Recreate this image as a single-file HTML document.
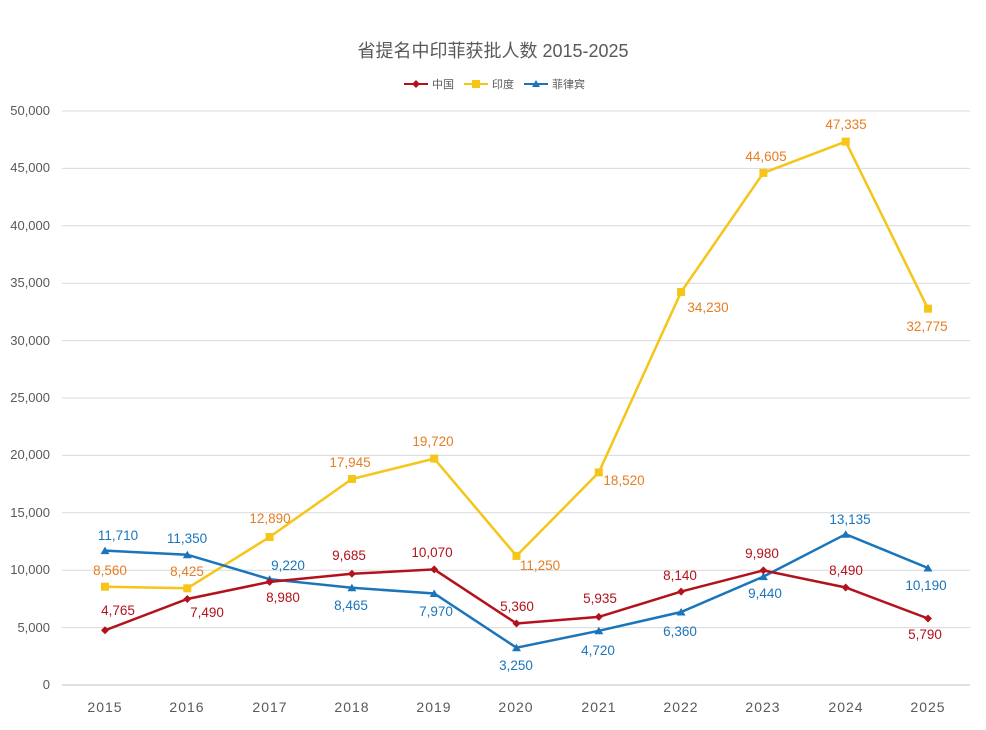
<!DOCTYPE html>
<html><head><meta charset="utf-8"><style>
body{margin:0;background:#fff;}
svg{display:block;font-family:"Liberation Sans","Noto Sans CJK SC",sans-serif;}
</style></head><body>
<svg width="986" height="730" viewBox="0 0 986 730" xmlns="http://www.w3.org/2000/svg">
<rect width="986" height="730" fill="#fff"/>
<text x="493" y="57" text-anchor="middle" font-size="18" fill="#595959">省提名中印菲获批人数 2015-2025</text>
<g font-size="11" fill="#595959">
<line x1="404" y1="84" x2="428" y2="84" stroke="#b3121c" stroke-width="2"/><path d="M416 80l4 4-4 4-4-4z" fill="#b3121c"/><text x="432" y="88">中国</text>
<line x1="464" y1="84" x2="488" y2="84" stroke="#f5c518" stroke-width="2"/><rect x="472" y="80" width="8" height="8" fill="#f5c518"/><text x="492" y="88">印度</text>
<line x1="524" y1="84" x2="548" y2="84" stroke="#1a75bb" stroke-width="2"/><path d="M536 80l4 7h-8z" fill="#1a75bb"/><text x="552" y="88">菲律宾</text>
</g>
<g stroke="#d9d9d9" stroke-width="1">
<line x1="62" y1="111" x2="970" y2="111"/><line x1="62" y1="168.4" x2="970" y2="168.4"/><line x1="62" y1="225.8" x2="970" y2="225.8"/><line x1="62" y1="283.2" x2="970" y2="283.2"/><line x1="62" y1="340.6" x2="970" y2="340.6"/><line x1="62" y1="398" x2="970" y2="398"/><line x1="62" y1="455.4" x2="970" y2="455.4"/><line x1="62" y1="512.8" x2="970" y2="512.8"/><line x1="62" y1="570.2" x2="970" y2="570.2"/><line x1="62" y1="627.6" x2="970" y2="627.6"/>
</g>
<line x1="62" y1="685" x2="970" y2="685" stroke="#bfbfbf"/>
<g font-size="13" fill="#595959" text-anchor="end">
<text x="50" y="115">50,000</text><text x="50" y="172">45,000</text><text x="50" y="230">40,000</text><text x="50" y="287">35,000</text><text x="50" y="345">30,000</text><text x="50" y="402">25,000</text><text x="50" y="459">20,000</text><text x="50" y="517">15,000</text><text x="50" y="574">10,000</text><text x="50" y="632">5,000</text><text x="50" y="689">0</text>
</g>
<g font-size="14" fill="#595959" text-anchor="middle" letter-spacing="1">
<text x="105" y="712">2015</text><text x="187" y="712">2016</text><text x="270" y="712">2017</text><text x="352" y="712">2018</text><text x="434" y="712">2019</text><text x="516" y="712">2020</text><text x="599" y="712">2021</text><text x="681" y="712">2022</text><text x="763" y="712">2023</text><text x="846" y="712">2024</text><text x="928" y="712">2025</text>
</g>
<polyline fill="none" stroke="#f5c518" stroke-width="2.5" points="105,586.7 187.3,588.3 269.6,537 351.9,479 434.2,458.6 516.5,555.9 598.8,472.4 681.1,292 763.4,172.9 845.7,141.6 928,308.7"/>
<g fill="#f5c518"><rect x="101" y="582.7" width="8" height="8"/><rect x="183.3" y="584.3" width="8" height="8"/><rect x="265.6" y="533" width="8" height="8"/><rect x="347.9" y="475" width="8" height="8"/><rect x="430.2" y="454.6" width="8" height="8"/><rect x="512.5" y="551.9" width="8" height="8"/><rect x="594.8" y="468.4" width="8" height="8"/><rect x="677.1" y="288" width="8" height="8"/><rect x="759.4" y="168.9" width="8" height="8"/><rect x="841.7" y="137.6" width="8" height="8"/><rect x="924" y="304.7" width="8" height="8"/></g>
<polyline fill="none" stroke="#1a75bb" stroke-width="2.5" points="105,550.6 187.3,554.7 269.6,579.2 351.9,587.8 434.2,593.5 516.5,647.7 598.8,630.8 681.1,612 763.4,576.6 845.7,534.2 928,568"/>
<g fill="#1a75bb"><path d="M105 546.6l4.5 7.5h-9z"/><path d="M187.3 550.7l4.5 7.5h-9z"/><path d="M269.6 575.2l4.5 7.5h-9z"/><path d="M351.9 583.8l4.5 7.5h-9z"/><path d="M434.2 589.5l4.5 7.5h-9z"/><path d="M516.5 643.7l4.5 7.5h-9z"/><path d="M598.8 626.8l4.5 7.5h-9z"/><path d="M681.1 608l4.5 7.5h-9z"/><path d="M763.4 572.6l4.5 7.5h-9z"/><path d="M845.7 530.2l4.5 7.5h-9z"/><path d="M928 564l4.5 7.5h-9z"/></g>
<polyline fill="none" stroke="#b3121c" stroke-width="2.5" points="105,630.3 187.3,599 269.6,581.9 351.9,573.8 434.2,569.4 516.5,623.5 598.8,616.9 681.1,591.6 763.4,570.4 845.7,587.5 928,618.5"/>
<g fill="#b3121c"><path d="M105 626.3l4 4-4 4-4-4z"/><path d="M187.3 595l4 4-4 4-4-4z"/><path d="M269.6 577.9l4 4-4 4-4-4z"/><path d="M351.9 569.8l4 4-4 4-4-4z"/><path d="M434.2 565.4l4 4-4 4-4-4z"/><path d="M516.5 619.5l4 4-4 4-4-4z"/><path d="M598.8 612.9l4 4-4 4-4-4z"/><path d="M681.1 587.6l4 4-4 4-4-4z"/><path d="M763.4 566.4l4 4-4 4-4-4z"/><path d="M845.7 583.5l4 4-4 4-4-4z"/><path d="M928 614.5l4 4-4 4-4-4z"/></g>
<g font-size="13.5" text-anchor="middle" fill="#e67e22">
<text x="110" y="575">8,560</text><text x="187" y="576">8,425</text><text x="270" y="523">12,890</text><text x="350" y="467">17,945</text><text x="433" y="446">19,720</text><text x="540" y="570">11,250</text><text x="624" y="485">18,520</text><text x="708" y="312">34,230</text><text x="766" y="161">44,605</text><text x="846" y="129">47,335</text><text x="927" y="331">32,775</text>
</g>
<g font-size="13.5" text-anchor="middle" fill="#b3121c">
<text x="118" y="615">4,765</text><text x="207" y="617">7,490</text><text x="283" y="602">8,980</text><text x="349" y="560">9,685</text><text x="432" y="557">10,070</text><text x="517" y="611">5,360</text><text x="600" y="603">5,935</text><text x="680" y="580">8,140</text><text x="762" y="558">9,980</text><text x="846" y="575">8,490</text><text x="925" y="639">5,790</text>
</g>
<g font-size="13.5" text-anchor="middle" fill="#1a75bb">
<text x="118" y="540">11,710</text><text x="187" y="543">11,350</text><text x="288" y="570">9,220</text><text x="351" y="610">8,465</text><text x="436" y="616">7,970</text><text x="516" y="670">3,250</text><text x="598" y="655">4,720</text><text x="680" y="636">6,360</text><text x="765" y="598">9,440</text><text x="850" y="524">13,135</text><text x="926" y="590">10,190</text>
</g>
</svg>
</body></html>
